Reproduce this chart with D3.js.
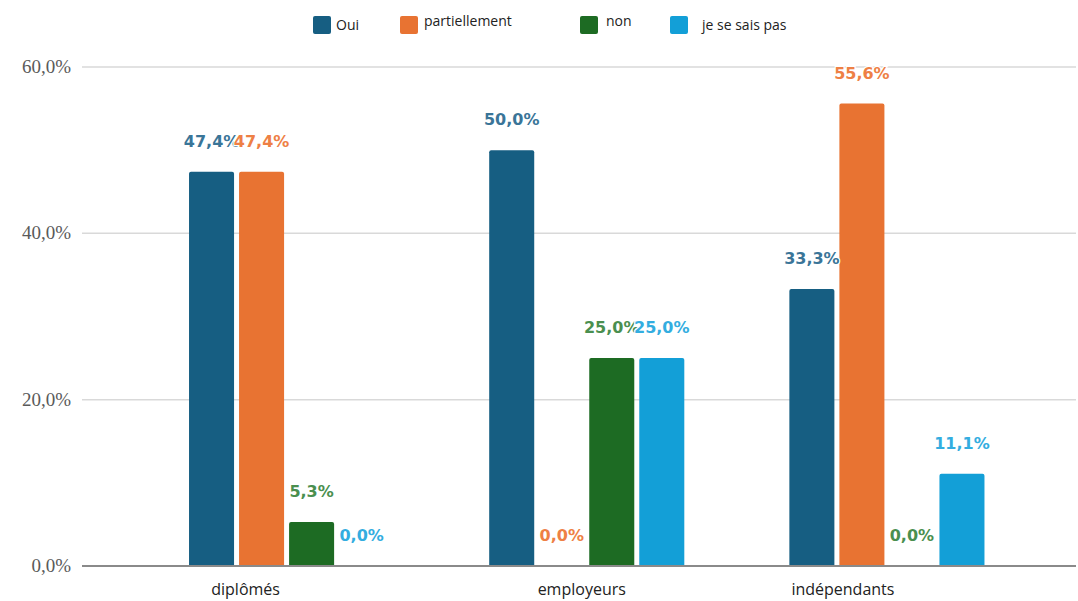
<!DOCTYPE html>
<html>
<head>
<meta charset="utf-8">
<script src="https://cdn.jsdelivr.net/npm/d3@7"></script>
<style>
  body { margin: 0; background: #fff; }
  svg { display: block; }
</style>
</head>
<body>
<svg id="chart" width="1078" height="601"></svg>
<script>
  var categories = ["diplômés", "employeurs", "indépendants"];
  var seriesNames = ["Oui", "partiellement", "non", "je se sais pas"];
  var oui = [47.4, 50.0, 33.3];
  var partiellement = [47.4, 0.0, 55.6];
  var non = [5.3, 25.0, 0.0];
  var nsp = [0.0, 25.0, 11.1];
  var yTicks = [0, 20, 40, 60];

  var BAR_COLORS = ["#165e82", "#e87332", "#1d6b23", "#139fd7"];
  var LABEL_COLORS = ["#3a7598", "#ee8045", "#4a8f4f", "#33ade0"];
  var LEGEND_X = [313, 400, 580, 670];
  var LEGEND_TEXT_DX = [23, 24, 26, 32];
  var LEGEND_TEXT_DY = [0, -4, -4, 0];
  var CATEGORY_LABEL_DX = [-41, -5, -44];

  var values = [oui, partiellement, non, nsp];
  var svg = d3.select("#chart");

  var x0 = d3.scaleBand()
    .domain(categories)
    .range([136.5, 1037])
    .paddingInner(1 / 3)
    .paddingOuter(1 / 6);

  var x1 = d3.scaleBand()
    .domain(seriesNames)
    .range([0, x0.bandwidth()])
    .paddingInner(0.1)
    .paddingOuter(0.05);

  var y = d3.scaleLinear()
    .domain([0, 60])
    .range([566, 67]);

  var fmt = function (v) { return v.toFixed(1).replace(".", ",") + "%"; };

  // gridlines
  svg.append("g").selectAll("line")
    .data(yTicks.filter(function (t) { return t > 0; }))
    .enter().append("line")
    .attr("x1", 82).attr("x2", 1076)
    .attr("y1", function (d) { return y(d); })
    .attr("y2", function (d) { return y(d); })
    .style("stroke", "#d9d9d9")
    .style("stroke-width", 1.5);

  // y labels
  svg.append("g").selectAll("text")
    .data(yTicks)
    .enter().append("text")
    .attr("x", 71)
    .attr("y", function (d) { return y(d) + 6; })
    .attr("text-anchor", "end")
    .style("font", "19px 'Liberation Serif', 'DejaVu Serif', serif")
    .style("fill", "#5a5a5a")
    .text(fmt);

  // bars
  var groups = svg.append("g").selectAll("g")
    .data(categories)
    .enter().append("g")
    .attr("transform", function (d) { return "translate(" + x0(d) + ",0)"; });

  groups.each(function (cat, ci) {
    var g = d3.select(this);
    seriesNames.forEach(function (s, si) {
      var v = values[si][ci];
      if (v <= 0) return;
      var x = x1(s), w = x1.bandwidth(), top = y(v), bottom = y(0), r = 2;
      g.append("path")
        .attr("d", "M" + x + "," + bottom +
          "V" + (top + r) + "Q" + x + "," + top + " " + (x + r) + "," + top +
          "H" + (x + w - r) + "Q" + (x + w) + "," + top + " " + (x + w) + "," + (top + r) +
          "V" + bottom + "Z")
        .style("fill", BAR_COLORS[si]);
    });
  });

  // baseline
  svg.append("line")
    .attr("x1", 82).attr("x2", 1076)
    .attr("y1", y(0)).attr("y2", y(0))
    .style("stroke", "#8a8a8a")
    .style("stroke-width", 2);

  // value labels
  groups.each(function (cat, ci) {
    var g = d3.select(this);
    seriesNames.forEach(function (s, si) {
      var v = values[si][ci];
      g.append("text")
        .attr("x", x1(s) + x1.bandwidth() / 2)
        .attr("y", y(v) - 25)
        .attr("text-anchor", "middle")
        .style("font", "bold 16px 'DejaVu Sans', sans-serif")
        .style("fill", LABEL_COLORS[si])
        .style("stroke", "#fff")
        .style("stroke-width", 2.5)
        .style("paint-order", "stroke")
        .text(fmt(v));
    });
  });

  // category labels
  svg.append("g").selectAll("text")
    .data(categories)
    .enter().append("text")
    .attr("x", function (d, i) { return x0(d) + x0.bandwidth() / 2 + CATEGORY_LABEL_DX[i]; })
    .attr("y", 595)
    .attr("text-anchor", "middle")
    .style("font", "16px 'Open Sans', sans-serif")
    .style("fill", "#222")
    .text(function (d) { return d; });

  // legend
  var legend = svg.append("g").selectAll("g")
    .data(seriesNames)
    .enter().append("g")
    .attr("transform", function (d, i) { return "translate(" + LEGEND_X[i] + ",16)"; });

  legend.append("rect")
    .attr("width", 18).attr("height", 18)
    .attr("rx", 2)
    .style("fill", function (d, i) { return BAR_COLORS[i]; });

  legend.append("text")
    .attr("x", function (d, i) { return LEGEND_TEXT_DX[i]; })
    .attr("y", function (d, i) { return 14 + LEGEND_TEXT_DY[i]; })
    .style("font", "14px 'Open Sans', sans-serif")
    .style("fill", "#222")
    .text(function (d) { return d; });
</script>
</body>
</html>
